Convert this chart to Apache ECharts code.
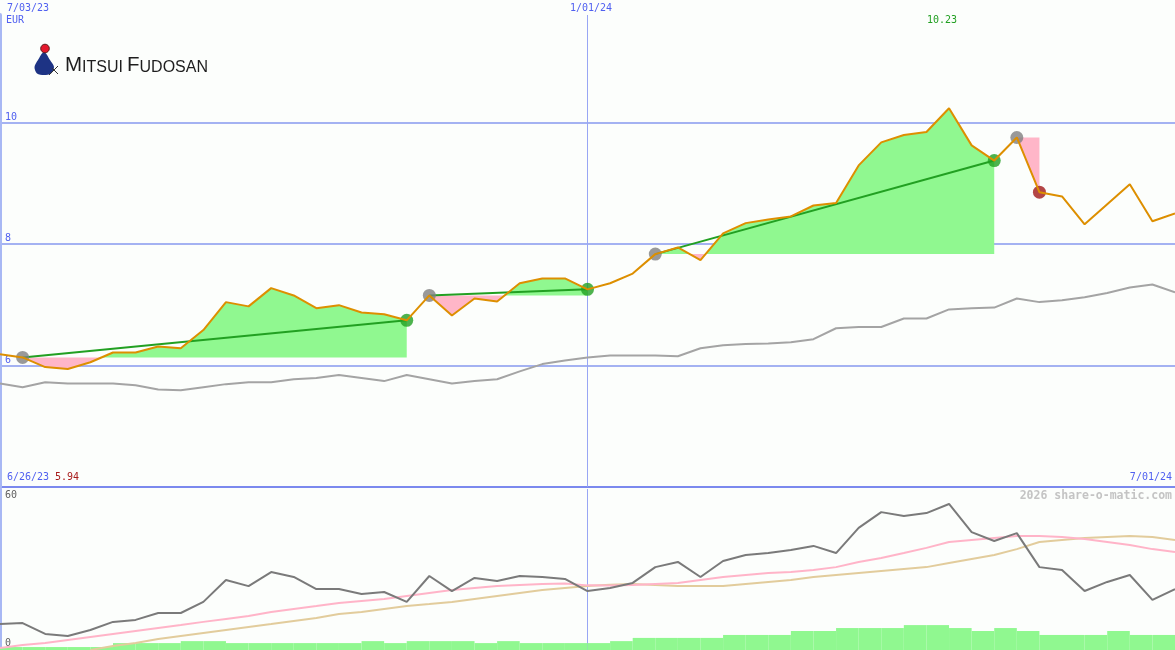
<!DOCTYPE html>
<html>
<head>
<meta charset="utf-8">
<title>Mitsui Fudosan</title>
<script src="https://cdn.jsdelivr.net/npm/echarts@6.0.0/dist/echarts.min.js"></script>
<style>
  html, body { margin: 0; padding: 0; background: #fcfefc; }
  #chart { width: 1175px; height: 650px; }
</style>
</head>
<body>
<div id="chart"></div>
<script>
// weekly closes, 7/03/23 .. 7/01/24
const dates = ['7/03/23','7/10/23','7/17/23','7/24/23','7/31/23','8/07/23','8/14/23','8/21/23','8/28/23',
  '9/04/23','9/11/23','9/18/23','9/25/23','10/02/23','10/09/23','10/16/23','10/23/23','10/30/23',
  '11/06/23','11/13/23','11/20/23','11/27/23','12/04/23','12/11/23','12/18/23','12/25/23',
  '1/01/24','1/08/24','1/15/24','1/22/24','1/29/24','2/05/24','2/12/24','2/19/24','2/26/24',
  '3/04/24','3/11/24','3/18/24','3/25/24','4/01/24','4/08/24','4/15/24','4/22/24','4/29/24',
  '5/06/24','5/13/24','5/20/24','5/27/24','6/03/24','6/10/24','6/17/24','6/24/24','7/01/24'];

const price = [6.18,6.13,5.97,5.94,6.05,6.21,6.21,6.31,6.28,6.58,7.04,6.97,7.27,7.15,6.94,6.99,6.87,6.84,6.74,7.15,
  6.82,7.10,7.05,7.35,7.43,7.43,7.25,7.35,7.51,7.83,7.94,7.73,8.17,8.34,8.40,8.45,8.63,8.67,9.29,9.67,
  9.79,9.84,10.23,9.62,9.37,9.75,8.85,8.78,8.32,8.65,8.98,8.37,8.50];

// benchmark index, rescaled onto the price axis
const bench = [5.70,5.64,5.72,5.70,5.70,5.70,5.67,5.60,5.59,5.64,5.69,5.72,5.72,5.77,5.79,5.84,5.79,5.74,5.84,5.77,
  5.70,5.74,5.77,5.90,6.02,6.08,6.13,6.16,6.16,6.16,6.15,6.28,6.33,6.35,6.36,6.38,6.43,6.61,6.63,6.63,
  6.77,6.77,6.92,6.94,6.95,7.10,7.04,7.07,7.12,7.19,7.28,7.33,7.20];

// lower panel
const indicator = [10.5,10.9,6.5,5.7,8.1,11.4,12.2,15.0,15.0,19.5,28.4,25.9,31.6,29.6,24.7,24.7,22.7,23.5,19.5,30.0,
  23.9,29.2,28.0,30.0,29.6,28.8,23.9,25.1,27.2,33.6,35.7,29.6,36.1,38.5,39.3,40.5,42.2,39.3,49.5,55.9,
  54.3,55.5,59.2,47.8,44.2,47.4,33.6,32.4,23.9,27.6,30.4,20.3,24.7];
const avgFast = [0.8,2.0,2.8,4.1,5.3,6.5,7.7,8.9,10.1,11.4,12.6,13.8,15.4,16.6,17.8,19.1,19.9,20.7,21.9,23.1,
  24.3,25.1,25.9,26.4,26.8,27.0,26.2,26.1,26.4,26.8,27.2,28.4,29.6,30.4,31.2,31.6,32.4,33.6,35.7,37.3,
  39.3,41.4,43.8,44.6,45.4,46.2,46.2,45.8,45.0,43.8,42.6,40.9,39.7];
const avgSlow = [null,null,null,null,0,1.6,2.8,4.5,5.7,6.9,8.1,9.3,10.5,11.8,13.0,14.6,15.4,16.6,17.8,18.6,
  19.5,20.7,21.9,23.1,24.3,25.1,25.9,26.5,26.8,26.4,25.9,25.9,25.9,26.8,27.6,28.4,29.6,30.4,31.2,32.0,
  32.8,33.6,35.3,36.9,38.5,40.9,43.8,44.6,45.4,45.8,46.2,45.8,44.6];
const volume = [1.2,1.2,1.2,1.2,1.2,2.8,2.8,2.8,3.6,3.6,2.8,2.8,2.8,2.8,2.8,2.8,3.6,2.8,3.6,3.6,
  3.6,2.8,3.6,2.8,2.8,2.8,2.8,3.6,4.9,4.9,4.9,4.9,6.1,6.1,6.1,7.7,7.7,8.9,8.9,8.9,
  10.1,10.1,8.9,7.7,8.9,7.7,6.1,6.1,6.1,7.7,6.1,6.1];

// trades: week index of entry and of exit
const tradeEntries = [1, 19, 29, 45];
const tradeExits = [18, 26, 44, 46];

const priceTicks = [6, 8, 10];
const lowerTicks = [0, 60];

const blue = '#5060f0';
const gridBlue = '#a4b2f2';
const gain = '#90f890';
const loss = '#ffb6c8';
const mono = 'DejaVu Sans Mono';

let chart = echarts.init(document.getElementById('chart'));

const fills = tradeEntries.map((e, k) => [e, price[e], tradeExits[k]]);
const entryDots = tradeEntries.map(e => [e, price[e]]);
const winDots = [], lossDots = [], trendLines = [];
tradeExits.forEach((x, k) => {
    const e = tradeEntries[k];
    if (price[x] >= price[e]) {
        winDots.push([x, price[x]]);
        trendLines.push([[e, price[e]], [x, price[x]]]);
    } else {
        lossDots.push([x, price[x]]);
    }
});

// area between price and entry level, green above, pink below
function renderFill(params, api) {
    const a = api.value(0), base = api.value(1), b = api.value(2);
    const basePx = api.coord([a, base])[1];
    const pts = [];
    for (let i = a; i <= b; i++) pts.push(api.coord([i, price[i]]));
    const up = [[pts[0][0], basePx]], dn = [[pts[0][0], basePx]];
    for (let k = 0; k < pts.length; k++) {
        const x = pts[k][0], y = pts[k][1];
        up.push([x, Math.min(y, basePx)]);
        dn.push([x, Math.max(y, basePx)]);
        if (k < pts.length - 1) {
            const x2 = pts[k + 1][0], y2 = pts[k + 1][1];
            if ((y - basePx) * (y2 - basePx) < 0) {
                const cx = x + (basePx - y) / (y2 - y) * (x2 - x);
                up.push([cx, basePx]);
                dn.push([cx, basePx]);
            }
        }
    }
    const endX = pts[pts.length - 1][0];
    up.push([endX, basePx]);
    dn.push([endX, basePx]);
    return {
        type: 'group',
        children: [
            { type: 'polygon', shape: { points: up }, style: { fill: gain } },
            { type: 'polygon', shape: { points: dn }, style: { fill: loss } }
        ]
    };
}

const hiddenAxis = { axisLine: { show: false }, axisTick: { show: false }, axisLabel: { show: false } };

const series = [
    {
        type: 'custom', xAxisIndex: 0, yAxisIndex: 0, z: 1, silent: true,
        renderItem: renderFill, encode: { x: 0, y: 1 }, data: fills
    },
    {
        type: 'line', xAxisIndex: 0, yAxisIndex: 0, z: 2, silent: true, symbol: 'none',
        lineStyle: { color: '#a4a4a4', width: 2 }, data: bench
    }
];
trendLines.forEach(seg => series.push({
    type: 'line', xAxisIndex: 0, yAxisIndex: 0, z: 3, silent: true, symbol: 'none',
    lineStyle: { color: '#22a022', width: 2 }, data: seg
}));
series.push(
    {
        type: 'scatter', xAxisIndex: 0, yAxisIndex: 0, z: 4, silent: true, symbolSize: 13,
        itemStyle: { color: '#808080' }, data: entryDots
    },
    {
        type: 'scatter', xAxisIndex: 0, yAxisIndex: 0, z: 4, silent: true, symbolSize: 13,
        itemStyle: { color: '#22a022' }, data: winDots
    },
    {
        type: 'scatter', xAxisIndex: 0, yAxisIndex: 0, z: 4, silent: true, symbolSize: 13,
        itemStyle: { color: '#a01818' }, data: lossDots
    },
    {
        type: 'line', xAxisIndex: 0, yAxisIndex: 0, z: 5, silent: true, symbol: 'none',
        lineStyle: { color: '#dd8f00', width: 2 }, data: price
    },
    {
        type: 'bar', xAxisIndex: 2, yAxisIndex: 1, z: 1, silent: true,
        barWidth: '100%', barGap: 0, itemStyle: { color: gain }, data: volume
    },
    {
        type: 'line', xAxisIndex: 1, yAxisIndex: 1, z: 2, silent: true, symbol: 'none',
        lineStyle: { color: '#e2cc9c', width: 2 }, data: avgSlow
    },
    {
        type: 'line', xAxisIndex: 1, yAxisIndex: 1, z: 3, silent: true, symbol: 'none',
        lineStyle: { color: '#ffb4c8', width: 2 }, data: avgFast
    },
    {
        type: 'line', xAxisIndex: 1, yAxisIndex: 1, z: 4, silent: true, symbol: 'none',
        lineStyle: { color: '#7a7a7a', width: 2 }, data: indicator
    }
);

const logoFont = {
    a: { fontSize: 20.5, fontFamily: 'Liberation Sans', fill: '#1e1e1e', lineHeight: 20, verticalAlign: 'bottom' },
    b: { fontSize: 16, fontFamily: 'Liberation Sans', fill: '#1e1e1e', lineHeight: 16, verticalAlign: 'bottom' }
};

chart.setOption({
    backgroundColor: '#fcfefc',
    animation: false,
    grid: [
        { left: 0, right: 0, top: 15, height: 471.8 },
        { left: 0, right: 0, top: 489, height: 161 }
    ],
    xAxis: [
        Object.assign({
            type: 'category', gridIndex: 0, data: dates, boundaryGap: false,
            splitLine: { show: true, interval: (i) => i === 26, lineStyle: { color: '#98a6f4', width: 1 } }
        }, hiddenAxis),
        Object.assign({
            type: 'category', gridIndex: 1, data: dates, boundaryGap: false,
            splitLine: { show: true, interval: (i) => i === 26, lineStyle: { color: '#98a6f4', width: 1 } }
        }, hiddenAxis),
        Object.assign({
            type: 'category', gridIndex: 1, data: dates.slice(0, 52), boundaryGap: true,
            splitLine: { show: false }
        }, hiddenAxis)
    ],
    yAxis: [
        {
            type: 'value', gridIndex: 0, min: 4, max: 11.766, interval: 2,
            axisLine: { show: true, lineStyle: { color: '#a8b8f4', width: 4 } },
            axisTick: { show: false },
            axisLabel: {
                inside: true, margin: 5, color: blue, fontFamily: mono, fontSize: 10,
                verticalAlign: 'bottom',
                formatter: v => priceTicks.includes(v) ? String(v) : ''
            },
            splitLine: {
                show: true, showMaxLine: false,
                lineStyle: { color: ['#7b89ee', gridBlue, gridBlue, gridBlue], width: 2 }
            }
        },
        {
            type: 'value', gridIndex: 1, min: 0, max: 65.27, interval: 60,
            axisLine: { show: true, lineStyle: { color: '#a8b8f4', width: 4 } },
            axisTick: { show: false },
            axisLabel: {
                inside: true, margin: 5, color: '#606060', fontFamily: mono, fontSize: 10,
                verticalAlign: 'bottom', padding: [0, 0, 2, 0],
                formatter: v => lowerTicks.includes(v) ? String(v) : ''
            },
            splitLine: { show: false }
        }
    ],
    graphic: [
        { type: 'text', x: 7, y: 3, style: { text: dates[0], fill: blue, fontFamily: mono, fontSize: 10 } },
        { type: 'text', x: 6, y: 15, style: { text: 'EUR', fill: blue, fontFamily: mono, fontSize: 10 } },
        { type: 'text', x: 570, y: 3, style: { text: dates[26], fill: blue, fontFamily: mono, fontSize: 10 } },
        { type: 'text', x: 927, y: 15, style: { text: '10.23', fill: '#22a022', fontFamily: mono, fontSize: 10 } },
        { type: 'text', x: 7, y: 472, style: { text: '6/26/23', fill: blue, fontFamily: mono, fontSize: 10 } },
        { type: 'text', x: 55, y: 472, style: { text: '5.94', fill: '#a81c1c', fontFamily: mono, fontSize: 10 } },
        { type: 'text', x: 1172, y: 472, style: { text: dates[52], fill: blue, fontFamily: mono, fontSize: 10, align: 'right' } },
        {
            type: 'text', x: 1172, y: 490,
            style: { text: '2026 share-o-matic.com', fill: '#c4c4c4', fontFamily: mono, fontSize: 11.5, fontWeight: 'bold', align: 'right' }
        },
        // logo
        {
            type: 'polygon',
            shape: { points: [[44, 52], [50, 60], [54, 67], [51, 73.5], [44, 75], [37, 73.5], [34.5, 67], [38, 60]], smooth: 0.3 },
            style: { fill: '#1d3384' }
        },
        { type: 'circle', shape: { cx: 45, cy: 48.5, r: 4.3 }, style: { fill: '#e4182c', stroke: '#5a1a1a', lineWidth: 1 } },
        { type: 'line', shape: { x1: 49, y1: 75, x2: 58, y2: 66 }, style: { stroke: '#333', lineWidth: 1 } },
        { type: 'line', shape: { x1: 52, y1: 68, x2: 58, y2: 74 }, style: { stroke: '#333', lineWidth: 1 } },
        {
            type: 'text', x: 65, y: 75.5,
            style: { text: '{a|M}{b|ITSUI}', verticalAlign: 'bottom', rich: logoFont }
        },
        {
            type: 'text', x: 127, y: 75.5,
            style: { text: '{a|F}{b|UDOSAN}', verticalAlign: 'bottom', rich: logoFont }
        }
    ],
    series: series
});

window.onresize = function () {
    chart.resize();
};
</script>
</body>
</html>
